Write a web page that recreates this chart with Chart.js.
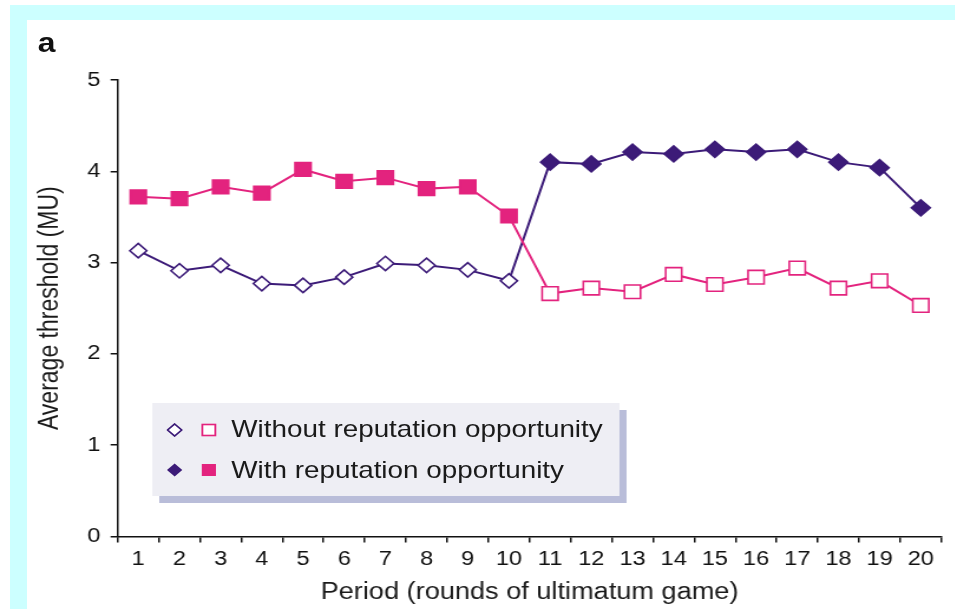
<!DOCTYPE html>
<html>
<head>
<meta charset="utf-8">
<script src="https://cdn.jsdelivr.net/npm/chart.js@4.4.0/dist/chart.umd.min.js"></script>
<style>
  html, body { margin: 0; padding: 0; background: #fff; }
  body { width: 955px; height: 609px; position: relative; overflow: hidden; font-family: "Liberation Sans", Arial, sans-serif; }
  /* cyan page frame, top and left */
  #frame { position: absolute; left: 10px; top: 5px; right: 0; bottom: 0; border-top: 15px solid #ccffff; border-left: 17px solid #ccffff; }
  /* the original figure is a bit stretched sideways */
  #stage { position: absolute; left: 0; top: 0; width: 809px; height: 609px; transform: scaleX(1.18); transform-origin: 0 0; }
  #panel { position: absolute; left: 32px; top: 30px; font-weight: bold; font-size: 27px; line-height: 27px; color: #111; }
  #legend { position: absolute; left: 129px; top: 403px; width: 396px; height: 93px; background: #eeeef4; box-shadow: 6px 7px 0 #b9bdd9; }
  #legend svg { position: absolute; }
  #legend span { position: absolute; left: 67px; font-size: 23.6px; line-height: 28px; color: #1a1a1a; white-space: nowrap; }
</style>
</head>
<body>
<div id="frame"></div>
<div id="stage">
  <canvas id="myChart" width="809" height="609"></canvas>
  <div id="panel">a</div>
  <div id="legend">
    <svg style="left:12px; top:20px" width="14" height="14"><polygon points="7,1 13,7 7,13 1,7" fill="#fff" stroke="#3c1b78" stroke-width="1.6"/></svg>
    <svg style="left:41px; top:20px" width="14" height="14"><rect x="1.5" y="1.5" width="11" height="11" fill="#fff" stroke="#e3237e" stroke-width="1.6"/></svg>
    <span style="top:12px">Without reputation opportunity</span>
    <svg style="left:12px; top:60px" width="14" height="14"><polygon points="7,0.5 13.5,7 7,13.5 0.5,7" fill="#3c1b78"/></svg>
    <svg style="left:41px; top:60px" width="14" height="14"><rect x="1" y="1" width="12" height="12" fill="#e3237e"/></svg>
    <span style="top:53px">With reputation opportunity</span>
  </div>
</div>
<script>
const periods = ["1", "2", "3", "4", "5", "6", "7", "8", "9", "10",
                 "11", "12", "13", "14", "15", "16", "17", "18", "19", "20"];
const withoutReputation = [3.13, 2.91, 2.97, 2.77, 2.75, 2.84, 2.99, 2.97, 2.92, 2.80,
                           2.66, 2.72, 2.68, 2.87, 2.76, 2.84, 2.94, 2.72, 2.80, 2.53];
const withReputation = [3.72, 3.70, 3.83, 3.76, 4.02, 3.89, 3.93, 3.81, 3.83, 3.51,
                        4.10, 4.08, 4.21, 4.19, 4.24, 4.21, 4.24, 4.10, 4.04, 3.60];
const yTicks = [0, 1, 2, 3, 4, 5];
const switchPeriod = 10; // groups swap treatment after period 10

const pink = "#e3237e";
const purple = "#3c1b78";

// lines follow the colour: pink = squares, purple = diamonds
const firstHalf = (i) => i < switchPeriod;
const pinkValues = periods.map((p, i) => firstHalf(i) ? withReputation[i] : withoutReputation[i]);
const purpleValues = periods.map((p, i) => firstHalf(i) ? withoutReputation[i] : withReputation[i]);

Chart.defaults.font.family = '"Liberation Sans", Arial, sans-serif';

const ctx = document.getElementById("myChart").getContext("2d");
const chart = new Chart(ctx, {
  type: "line",
  data: {
    labels: periods,
    datasets: [
      {
        label: "squares",
        data: pinkValues,
        borderColor: pink,
        borderWidth: 2,
        pointStyle: "rect",
        pointRadius: 9.6,
        pointBorderColor: pink,
        pointBorderWidth: 1.6,
        pointBackgroundColor: periods.map((p, i) => firstHalf(i) ? pink : "#fff"),
      },
      {
        label: "diamonds",
        data: purpleValues,
        borderColor: purple,
        borderWidth: 2,
        pointStyle: "rectRot",
        pointRadius: periods.map((p, i) => firstHalf(i) ? 7.2 : 8),
        pointBorderColor: purple,
        pointBorderWidth: 1.6,
        pointBackgroundColor: periods.map((p, i) => firstHalf(i) ? "#fff" : purple),
      },
    ],
  },
  options: {
    responsive: false,
    animation: false,
    events: [],
    layout: { padding: { left: 10, right: 8, top: 80, bottom: 0 } },
    plugins: { legend: { display: false }, tooltip: { enabled: false } },
    scales: {
      x: {
        offset: true,
        grid: { offset: true, drawOnChartArea: false, tickLength: 6, color: "#111", lineWidth: 1.5 },
        border: { color: "#111", width: 1.5 },
        ticks: { color: "#111", font: { size: 20 }, padding: 5, autoSkip: false, maxRotation: 0 },
        title: {
          display: true,
          text: "Period (rounds of ultimatum game)",
          color: "#1a1a1a",
          font: { size: 23 },
          padding: { top: 2, bottom: 3 },
        },
      },
      y: {
        min: yTicks[0],
        max: yTicks[yTicks.length - 1],
        afterBuildTicks: (scale) => { scale.ticks = yTicks.map((v) => ({ value: v })); },
        grid: { drawOnChartArea: false, tickLength: 6, color: "#111", lineWidth: 1.5 },
        border: { color: "#111", width: 1.5 },
        ticks: { color: "#111", font: { size: 20 }, padding: 8.5 },
        title: {
          display: true,
          text: "Average threshold (MU)",
          color: "#1a1a1a",
          font: { size: 23 },
          padding: { top: 18.5, bottom: 9.5 },
        },
      },
    },
  },
});
</script>
</body>
</html>
